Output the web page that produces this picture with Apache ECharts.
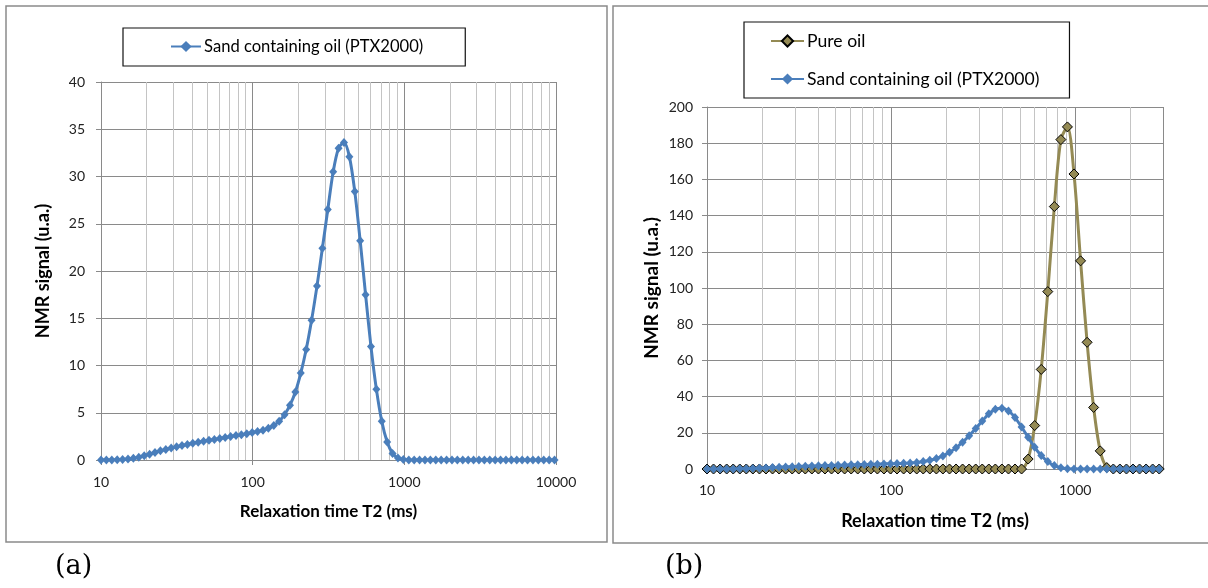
<!DOCTYPE html>
<html><head><meta charset="utf-8">
<script src="https://cdn.jsdelivr.net/npm/echarts@6/dist/echarts.min.js"></script>
<style>html,body{margin:0;padding:0;background:#fff}#c{width:1208px;height:588px}</style>
</head><body><div id="c"></div>
<script>
// Relaxation time grid (ms)
const t2 = [10, 10.85, 11.78, 12.79, 13.88, 15.07, 16.35, 17.75, 19.27, 20.91,
  22.70, 24.64, 26.74, 29.03, 31.51, 34.20, 37.12, 40.29, 43.73, 47.47,
  51.52, 55.92, 60.70, 65.89, 71.52, 77.62, 84.26, 91.46, 99.27, 107.7,
  117.0, 126.9, 137.8, 149.5, 162.3, 176.2, 191.2, 207.6, 225.3, 244.6,
  265.5, 288.2, 312.8, 339.5, 368.5, 400.0, 434.2, 471.3, 511.5, 555.2,
  602.6, 654.1, 710.0, 770.6, 836.5, 907.8, 985.4, 1070, 1161, 1260,
  1368, 1485, 1612, 1749, 1899, 2061, 2237, 2428, 2636, 2861,
  3105, 3370, 3658, 3971, 4310, 4677, 5077, 5511, 5981, 6492,
  7047, 7648, 8302, 9011, 9781];
// Sand containing oil (PTX2000)
const sandSignal = [0, 0, 0, 0.02, 0.05, 0.1, 0.18, 0.3, 0.45, 0.62,
  0.8, 0.97, 1.12, 1.26, 1.4, 1.53, 1.65, 1.77, 1.88, 1.98,
  2.08, 2.18, 2.28, 2.38, 2.48, 2.58, 2.68, 2.79, 2.9, 3.02,
  3.15, 3.35, 3.65, 4.1, 4.8, 5.8, 7.2, 9.2, 11.7, 14.8,
  18.4, 22.4, 26.5, 30.5, 33.0, 33.6, 32.1, 28.4, 23.2, 17.5,
  12.0, 7.5, 4.1, 1.9, 0.7, 0.2, 0.05, 0, 0, 0,
  0, 0, 0, 0, 0, 0, 0, 0, 0, 0,
  0, 0, 0, 0, 0, 0, 0, 0, 0, 0,
  0, 0, 0, 0, 0];
// Pure oil (first 70 grid points)
const pureOilSignal = [0, 0, 0, 0, 0, 0, 0, 0, 0, 0,
  0, 0, 0, 0, 0, 0, 0, 0, 0, 0,
  0, 0, 0, 0, 0, 0, 0, 0, 0, 0,
  0, 0, 0, 0, 0, 0, 0, 0, 0, 0,
  0, 0, 0, 0, 0, 0, 0, 0, 0, 5.5,
  24, 55, 98, 145, 182, 189, 163, 115, 70, 34,
  10, 0.8, 0, 0, 0, 0, 0, 0, 0, 0];
const xTickLabels = ['10', '100', '1000', '10000'];
const minorGridA = [20,30,40,50,60,70,80,90,200,300,400,500,600,700,800,900,2000,3000,4000,5000,6000,7000,8000,9000];
const minorGridB = [20,30,40,50,60,70,80,90,200,300,400,500,600,700,800,900,2000];
const nameSand = 'Sand containing oil (PTX2000)';
const nameOil = 'Pure oil';

const FONT = 'Lato';
const BLUE = '#4A7EBB';
const OLIVE = '#948A54';
const MAJ = '#8a8a8a';
const MIN = '#c4c4c4';

function pairs(xs, ys) { return ys.map((y, i) => [xs[i], y]); }
function minorLines(arr) {
  return { silent: true, symbol: 'none', z: 1, animation: false, label: { show: false },
    lineStyle: { color: MIN, width: 1, type: 'solid' },
    data: arr.map(v => ({ xAxis: v })) };
}
function xAxisCfg(gi, max, titleSize, gap, lblMargin) {
  return {
    type: 'log', logBase: 10, gridIndex: gi, min: 10, max: max,
    name: 'Relaxation time T2 (ms)', nameLocation: 'middle', nameGap: gap,
    nameTextStyle: { fontFamily: FONT, fontWeight: 'bold', fontSize: titleSize, color: '#000' },
    axisLine: { show: true, lineStyle: { color: MAJ, width: 1 } },
    axisTick: { show: true, length: 5, lineStyle: { color: MAJ } },
    axisLabel: { fontFamily: FONT, fontSize: 14, color: '#222', margin: lblMargin, showMaxLabel: gi === 0,
      formatter: v => { const s = String(Math.round(v)); return xTickLabels.includes(s) ? s : ''; } },
    splitLine: { show: true, lineStyle: { color: MAJ, width: 1 } }
  };
}
function yAxisCfg(gi, max, interval, titleSize, gap, lblMargin) {
  return {
    type: 'value', gridIndex: gi, min: 0, max: max, interval: interval,
    name: 'NMR signal (u.a.)', nameLocation: 'middle', nameGap: gap,
    nameTextStyle: { fontFamily: FONT, fontWeight: 'bold', fontSize: titleSize, color: '#000' },
    axisLine: { show: true, lineStyle: { color: MAJ, width: 1 } },
    axisTick: { show: true, length: 5, lineStyle: { color: MAJ } },
    axisLabel: { fontFamily: FONT, fontSize: 14, color: '#222', margin: lblMargin },
    splitLine: { show: true, lineStyle: { color: MAJ, width: 1 } }
  };
}
const sandStyle = {
  type: 'line', name: nameSand, symbol: 'diamond', symbolSize: [8, 9], smooth: 0.3,
  lineStyle: { color: BLUE, width: 3 }, itemStyle: { color: BLUE }, z: 4
};

const chart = echarts.init(document.getElementById('c'), null, { renderer: 'canvas' });
chart.setOption({
  animation: false,
  backgroundColor: '#fff',
  grid: [
    { left: 101, top: 82, width: 455, height: 378 },
    { left: 707, top: 107, width: 456, height: 362 }
  ],
  xAxis: [xAxisCfg(0, 10000, 17, 43, 15), xAxisCfg(1, 3000, 18, 43, 14)],
  yAxis: [yAxisCfg(0, 40, 5, 18, 49, 16), yAxisCfg(1, 200, 20, 19, 46, 14)],
  legend: [
    { data: [nameSand], left: 123, top: 28, orient: 'horizontal',
      padding: [10, 42, 11, 47], itemWidth: 30, itemHeight: 14, itemGap: 4,
      borderColor: '#111', borderWidth: 1.2,
      textStyle: { fontFamily: FONT, fontSize: 16.6, color: '#000', padding: [0, 0, 0, -2] } },
    { data: [nameOil, nameSand], left: 744, top: 22, orient: 'vertical',
      padding: [10, 30, 10, 26], itemWidth: 33, itemHeight: 14, itemGap: 20,
      borderColor: '#111', borderWidth: 1.2,
      textStyle: { fontFamily: FONT, fontSize: 17.6, color: '#000', padding: [0, 0, 0, -2] } }
  ],
  series: [
    Object.assign({}, sandStyle, { xAxisIndex: 0, yAxisIndex: 0, data: pairs(t2, sandSignal),
      markLine: minorLines(minorGridA) }),
    { type: 'line', name: nameOil, xAxisIndex: 1, yAxisIndex: 1, symbol: 'diamond', symbolSize: 10,
      smooth: 0.3, lineStyle: { color: OLIVE, width: 3 },
      itemStyle: { color: OLIVE, borderColor: '#000', borderWidth: 1 }, z: 3,
      data: pairs(t2, pureOilSignal), markLine: minorLines(minorGridB) },
    Object.assign({}, sandStyle, { xAxisIndex: 1, yAxisIndex: 1,
      data: pairs(t2, sandSignal.slice(0, pureOilSignal.length)) })
  ],
  graphic: [
    { type: 'rect', shape: { x: 6, y: 6, width: 601, height: 536 }, silent: true, z: -1,
      style: { fill: null, stroke: '#8a8a8a', lineWidth: 1.5 } },
    { type: 'rect', shape: { x: 613, y: 6, width: 600, height: 537 }, silent: true, z: -1,
      style: { fill: null, stroke: '#8a8a8a', lineWidth: 1.5 } },
    { type: 'text', left: 55, top: 553, silent: true,
      style: { text: '(a)', font: '27px "DejaVu Serif"', fill: '#000' } },
    { type: 'text', left: 665, top: 553, silent: true,
      style: { text: '(b)', font: '27px "DejaVu Serif"', fill: '#000' } }
  ]
});
</script></body></html>
